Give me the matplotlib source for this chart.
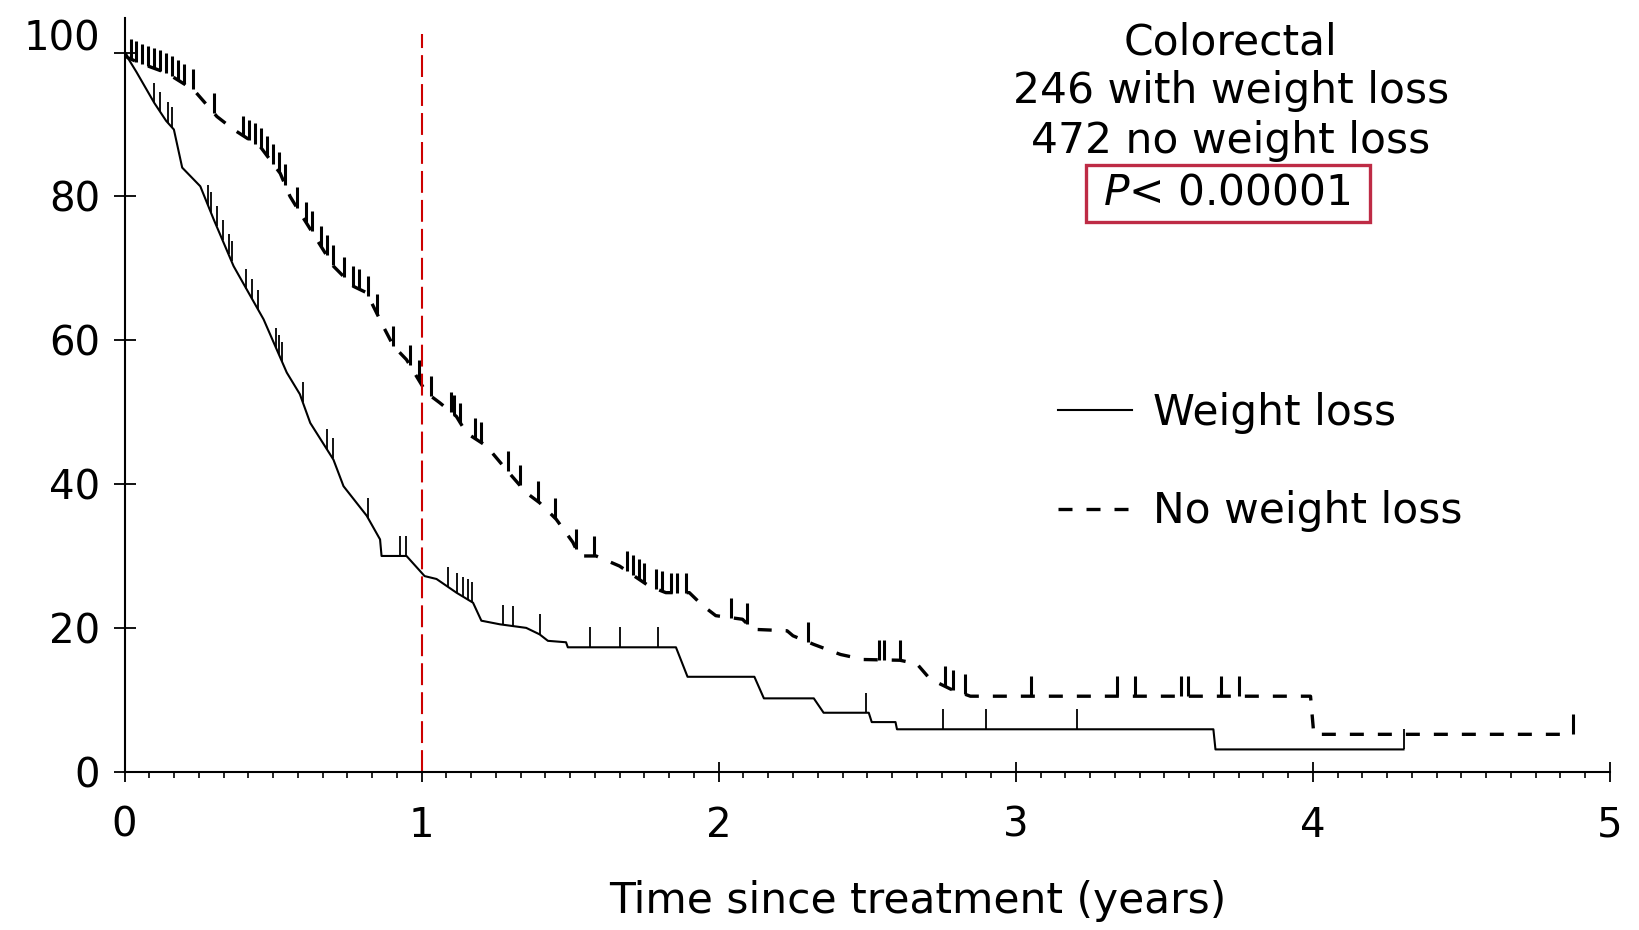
# Colorectal: survival with vs. without weight loss (Kaplan-Meier)
import numpy as np
import matplotlib
matplotlib.use('Agg')
import matplotlib.pyplot as plt
from matplotlib.ticker import MultipleLocator
from matplotlib.patches import Rectangle
from matplotlib.transforms import ScaledTranslation

plt.rcParams['font.family'] = ['DejaVu Sans']
plt.rcParams['mathtext.fontset'] = 'dejavusans'

# Weight loss (solid): curve vertices (years, % surviving) and censor times
wl_t = [0, 0.04, 0.10, 0.14, 0.166, 0.194, 0.255, 0.30, 0.367, 0.468, 0.546, 0.59,
        0.625, 0.703, 0.737, 0.815, 0.86, 0.865, 0.949, 1.01, 1.05, 1.117, 1.173,
        1.201, 1.263, 1.352, 1.397, 1.425, 1.486, 1.492, 1.856, 1.895, 2.12, 2.152,
        2.32, 2.353, 2.505, 2.515, 2.595, 2.60, 3.665, 3.672, 4.305]
wl_s = [100, 97.3, 93, 90.5, 89.3, 84.0, 81.4, 76.8, 70.3, 62.9, 55.5, 52.5,
        48.5, 43.4, 39.7, 35.6, 32.3, 30.0, 30.0, 27.2, 26.8, 24.9, 23.5,
        21.0, 20.5, 20.0, 19.1, 18.2, 18.0, 17.3, 17.3, 13.2, 13.2, 10.2,
        10.2, 8.2, 8.2, 6.9, 6.9, 5.9, 5.9, 3.1, 3.1]
wl_cens = [0.10, 0.12, 0.145, 0.16, 0.28, 0.29, 0.31, 0.33, 0.35, 0.36, 0.41, 0.43,
           0.45, 0.51, 0.52, 0.53, 0.60, 0.68, 0.70, 0.82, 0.927, 0.947, 1.09, 1.12,
           1.14, 1.155, 1.17, 1.274, 1.307, 1.397, 1.565, 1.666, 1.794, 2.495, 2.755,
           2.90, 3.205, 4.305]

# No weight loss (dashed)
nwl_t = [0, 0.01, 0.054, 0.14, 0.233, 0.311, 0.367, 0.457, 0.524, 0.557, 0.591, 0.647,
         0.703, 0.77, 0.815, 0.871, 0.905, 0.949, 1.016, 1.061, 1.117, 1.151, 1.218,
         1.285, 1.352, 1.397, 1.453, 1.509, 1.531, 1.587, 1.666, 1.766, 1.822, 1.901,
         1.946, 1.99, 2.08, 2.115, 2.23, 2.25, 2.32, 2.41, 2.488, 2.61, 2.667, 2.711,
         2.78, 2.847, 3.992, 4.003, 4.877]
nwl_s = [100, 99.3, 98.5, 97.2, 94.8, 91.1, 89.3, 86.9, 83.2, 80.0, 77.7, 74.0,
         70.3, 67.5, 66.6, 61.9, 59.2, 57.3, 52.7, 51.3, 49.4, 47.1, 45.3,
         42.0, 38.8, 37.4, 35.1, 31.9, 30.0, 30.0, 28.6, 25.8, 24.9, 24.9,
         23.1, 21.7, 21.2, 19.8, 19.6, 18.9, 17.7, 16.3, 15.6, 15.5, 15.0, 12.9,
         11.5, 10.5, 10.5, 5.2, 5.2]
nwl_cens = [0.02, 0.04, 0.06, 0.08, 0.10, 0.12, 0.14, 0.16, 0.18, 0.20, 0.23, 0.30,
            0.40, 0.42, 0.44, 0.46, 0.48, 0.50, 0.52, 0.54, 0.58, 0.61, 0.63, 0.66,
            0.68, 0.70, 0.74, 0.77, 0.79, 0.82, 0.85, 0.905, 0.96, 0.99, 1.03, 1.10,
            1.11, 1.13, 1.18, 1.20, 1.29, 1.33, 1.39, 1.45, 1.52, 1.58, 1.69, 1.71,
            1.73, 1.75, 1.79, 1.81, 1.84, 1.86, 1.89, 2.04, 2.095, 2.30, 2.54, 2.555,
            2.61, 2.76, 2.79, 2.83, 3.05, 3.34, 3.40, 3.555, 3.58, 3.69, 3.75, 4.877]

x_ticks = [0, 1, 2, 3, 4, 5]
y_ticks = [0, 20, 40, 60, 80, 100]
info_lines = ['Colorectal', '246 with weight loss', '472 no weight loss']
p_text = r'$P$< 0.00001'
landmark = 1

fig = plt.figure(figsize=(16.39, 9.30), dpi=100)
ax = fig.add_axes([0.076, 0.1702, 0.9063, 0.8104])

ax.plot(wl_t, wl_s, color='black', lw=1.5, label='Weight loss')
ax.plot(nwl_t, nwl_s, color='black', lw=2.4, dashes=(4.2, 4.2), label='No weight loss')

# censor marks: short upward strokes sitting on the curve
tick_h = 2.8
y0 = np.interp(wl_cens, wl_t, wl_s)
ax.vlines(wl_cens, y0, y0 + tick_h, colors='black', lw=1.3)
y0 = np.interp(nwl_cens, nwl_t, nwl_s)
ax.vlines(nwl_cens, y0, y0 + tick_h, colors='black', lw=2.2)

# 1-year landmark
ax.plot([landmark, landmark], [0, 102.6], color='#CC0000', lw=1.5, dashes=(10.5, 3.4))

ax.set_xlim(0, 5)
ax.set_ylim(0, 104.8)
ax.set_xticks(x_ticks)
ax.set_yticks(y_ticks)
ax.xaxis.set_minor_locator(MultipleLocator(1 / 12))
for s in ['top', 'right']:
    ax.spines[s].set_visible(False)
for s in ['left', 'bottom']:
    ax.spines[s].set_linewidth(1.5)
ax.tick_params(axis='x', which='major', direction='inout', length=15, width=1.3,
               labelsize=29, pad=17)
ax.tick_params(axis='y', which='major', direction='inout', length=16, width=1.3,
               labelsize=29, pad=9.5)
ax.tick_params(axis='x', which='minor', direction='out', length=4.3, width=1.2)

# the "100" label sits a little higher than its tick
lbl = ax.yaxis.get_majorticklabels()[-1]
lbl.set_transform(lbl.get_transform() + ScaledTranslation(0, 0.18, fig.dpi_scale_trans))

ax.set_xlabel('Time since treatment (years)', fontsize=30.5, labelpad=25, x=0.534)

# header text + boxed P value
for txt, yb in zip(info_lines, [0.9409, 0.8892, 0.8355]):
    fig.text(0.751, yb, txt, ha='center', va='baseline', fontsize=30.5)
fig.text(0.7486, 0.7796, p_text, ha='center', va='baseline', fontsize=30.5)
fig.add_artist(Rectangle((0.6626, 0.7613), 0.1733, 0.0613, transform=fig.transFigure,
                         fill=False, ec='#BE2B45', lw=2.4))

ax.legend(loc='center left', bbox_to_anchor=(0.6455, 0.503), bbox_transform=fig.transFigure,
          frameon=False, fontsize=30.5, handlelength=1.75, handletextpad=0.5,
          labelspacing=1.33, borderpad=0, borderaxespad=0)

fig.savefig('out.png', dpi=100)
